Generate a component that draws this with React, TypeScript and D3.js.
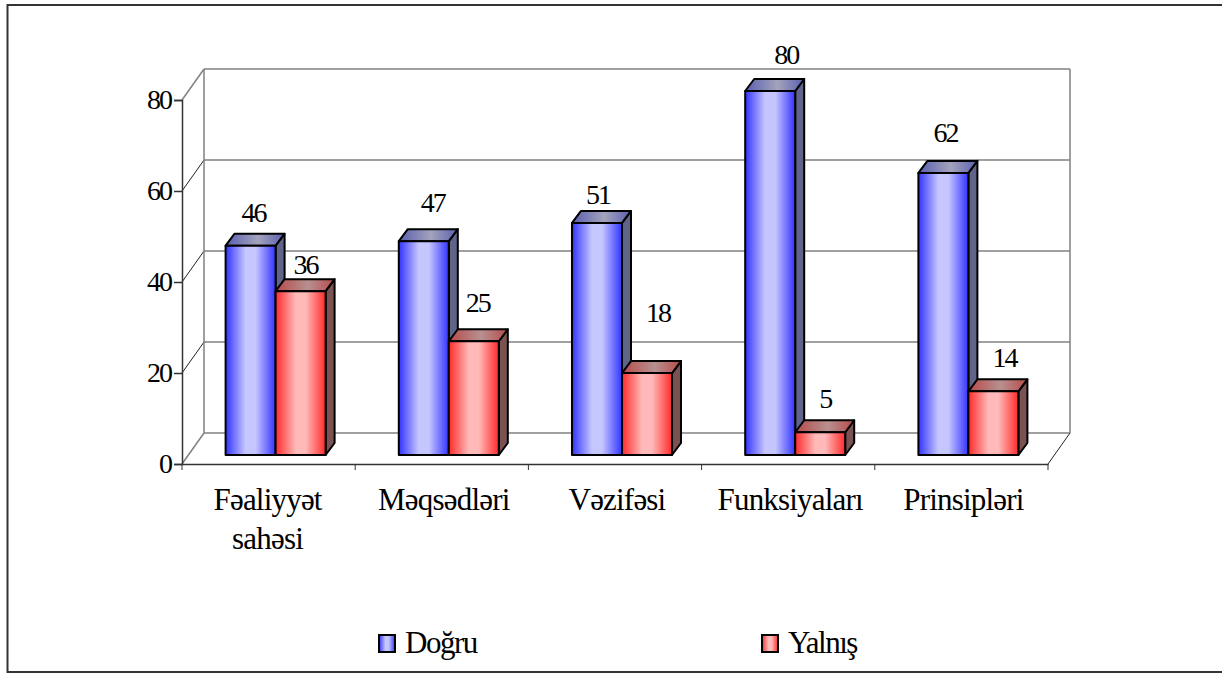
import { useEffect, useRef } from "react";
import * as d3 from "d3";

const categories = ["Fəaliyyət sahəsi", "Məqsədləri", "Vəzifəsi", "Funksiyaları", "Prinsipləri"];
const dogru = [46, 47, 51, 80, 62];
const yalnis = [36, 25, 18, 5, 14];
const seriesNames = ["Doğru", "Yalnış"];
const yTicks = [0, 20, 40, 60, 80];

// hand placed data labels, excel moved them around: [dx, dy] from bar top
const labelNudge = [
  [[3, -24], [5, -17]],
  [[9, -29], [4, -29]],
  [[1, -19], [11, -51]],
  [[16, -27], [5, -24]],
  [[2, -31], [11, -24]],
];

const W = 1222;
const H = 673;
const FONT = "'Liberation Serif', serif";
const left = 182;
const right = 1048;
const floorY = 464;
const topY = 100;
const wallDx = 22;
const wallDy = 31;
const barDx = 9;
const barDy = 12;

const faces = [
  { id: "blue", stops: ["#3333ff", "#c6c6ff", "#c6c6ff", "#3333ff"], top: "#5a5fb0", topMid: "#a3a3bb", side: "#5f6488" },
  { id: "red", stops: ["#ff2a2a", "#ffb9b9", "#ffb9b9", "#ff2a2a"], top: "#b84a4a", topMid: "#b79090", side: "#7a5252" },
];

// the original digits are narrow and tall, so squeeze them
const numberText = (sel: any) =>
  sel.attr("font-family", FONT).attr("font-size", 28).attr("letter-spacing", -2).attr("fill", "#000");

export default function App() {
  const ref = useRef<SVGSVGElement>(null);

  useEffect(() => {
    const svg = d3.select(ref.current);
    svg.selectAll("*").remove();

    const x = d3.scaleBand<string>().domain(categories).range([left, right]).paddingInner(0.4226).paddingOuter(0.2113);
    const y = d3.scaleLinear().domain([0, 80]).range([floorY, topY]);

    const defs = svg.append("defs");
    faces.forEach((f) => {
      const g = defs.append("linearGradient").attr("id", f.id);
      [0, 0.4, 0.6, 1].forEach((o, i) => g.append("stop").attr("offset", o).attr("stop-color", f.stops[i]));
      const t = defs.append("linearGradient").attr("id", f.id + "Top");
      t.append("stop").attr("offset", 0).attr("stop-color", f.top);
      t.append("stop").attr("offset", 0.55).attr("stop-color", f.topMid);
      t.append("stop").attr("offset", 1).attr("stop-color", f.top);
    });

    // outer frame
    svg.append("rect").attr("x", 7.5).attr("y", 5).attr("width", 1216).attr("height", 667)
      .attr("fill", "#fff").attr("stroke", "#333").attr("stroke-width", 2);

    // back wall + floor
    const grid = "#808080";
    const wall = svg.append("g").attr("fill", "none").attr("stroke", grid).attr("stroke-width", 1.5);
    yTicks.forEach((t) => {
      wall.append("line").attr("x1", left + wallDx).attr("x2", right + wallDx)
        .attr("y1", y(t) - wallDy).attr("y2", y(t) - wallDy);
      const side = wall.append("line").attr("x1", left).attr("x2", left + wallDx).attr("y1", y(t)).attr("y2", y(t) - wallDy);
      if (t !== 0 && t !== 80) side.attr("stroke", "#222").attr("stroke-width", 1);
    });
    wall.append("line").attr("x1", left + wallDx).attr("x2", left + wallDx).attr("y1", y(80) - wallDy).attr("y2", y(0) - wallDy);
    wall.append("line").attr("x1", right + wallDx).attr("x2", right + wallDx).attr("y1", y(80) - wallDy).attr("y2", y(0) - wallDy);
    wall.append("line").attr("x1", right).attr("x2", right + wallDx).attr("y1", y(0)).attr("y2", y(0) - wallDy)
      .attr("stroke", "#222").attr("stroke-width", 1);

    // axes
    const yAxis = d3.axisLeft(y).tickValues(yTicks).tickSize(8).tickPadding(3);
    const yG = svg.append("g").attr("transform", `translate(${left},0)`).call(yAxis);
    const xAxis = d3.axisBottom(x).tickValues([]).tickSizeOuter(0);
    const xG = svg.append("g").attr("transform", `translate(0,${floorY})`).call(xAxis);
    yG.selectAll("text").call(numberText);
    yG.selectAll("line,path").attr("stroke", "#333").attr("stroke-width", 1.5);
    xG.selectAll("path").attr("stroke", "#333").attr("stroke-width", 1.5);

    const step = x.step();
    d3.range(categories.length + 1).forEach((i) => {
      svg.append("line").attr("x1", left + i * step).attr("x2", left + i * step)
        .attr("y1", floorY).attr("y2", floorY + 6).attr("stroke", "#333").attr("stroke-width", 1);
    });

    categories.forEach((c, i) => {
      const cx = left + (i + 0.5) * step + (i === 0 ? -1 : 2);
      const words = i === 0 ? c.split(" ") : [c];
      words.forEach((w, k) => {
        svg.append("text").attr("x", cx).attr("y", 510 + k * 39).attr("text-anchor", "middle")
          .attr("font-family", FONT).attr("font-size", 31).attr("letter-spacing", -0.8).text(w);
      });
    });

    // bars
    const baseY = y(0) - 9;
    const unit = (y(0) - y(80)) / 80;
    const inner = d3.scaleBand<number>().domain([0, 1]).range([0, x.bandwidth()]);
    const shift = 7;
    const plot = svg.append("g").attr("stroke", "#000").attr("stroke-width", 2).attr("stroke-linejoin", "round");
    const pts = (a: number[][]) => a.map((p) => p.join(",")).join(" ");
    categories.forEach((c, i) => {
      [dogru[i], yalnis[i]].forEach((v, s) => {
        const x0 = (x(c) as number) + shift + (inner(s) as number);
        const w = inner.bandwidth();
        const yTop = baseY - v * unit;
        const f = faces[s];
        plot.append("polygon").attr("fill", f.side).attr("points", pts([
          [x0 + w, yTop], [x0 + w + barDx, yTop - barDy], [x0 + w + barDx, baseY - barDy], [x0 + w, baseY],
        ]));
        plot.append("polygon").attr("fill", `url(#${f.id}Top)`).attr("points", pts([
          [x0, yTop], [x0 + barDx, yTop - barDy], [x0 + w + barDx, yTop - barDy], [x0 + w, yTop],
        ]));
        plot.append("rect").attr("x", x0).attr("y", yTop).attr("width", w).attr("height", baseY - yTop)
          .attr("fill", `url(#${f.id})`);
      });
    });
    categories.forEach((c, i) => {
      [dogru[i], yalnis[i]].forEach((v, s) => {
        const x0 = (x(c) as number) + shift + (inner(s) as number);
        const [nx, ny] = labelNudge[i][s];
        svg.append("text").attr("x", x0 + inner.bandwidth() / 2 + nx).attr("y", baseY - v * unit + ny)
          .attr("text-anchor", "middle").call(numberText).text(v);
      });
    });

    // legend
    const legendX = [379, 762];
    seriesNames.forEach((n, s) => {
      svg.append("rect").attr("x", legendX[s]).attr("y", 635).attr("width", 16).attr("height", 17)
        .attr("fill", `url(#${faces[s].id})`).attr("stroke", "#000").attr("stroke-width", 2);
      svg.append("text").attr("x", legendX[s] + 26).attr("y", 653)
        .attr("font-family", FONT).attr("font-size", 31).attr("letter-spacing", -1.5).text(n);
    });
  }, []);

  return <svg ref={ref} width={W} height={H} style={{ position: "absolute", left: 0, top: 0 }} />;
}
